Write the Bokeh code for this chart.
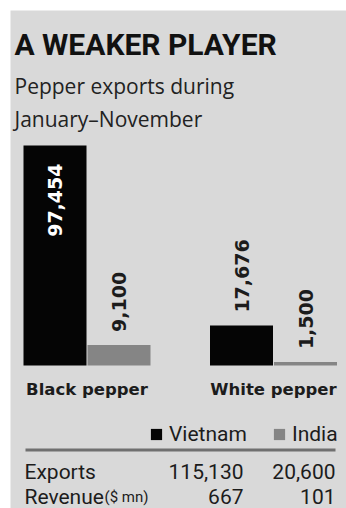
import math
from bokeh.plotting import figure
from bokeh.models import Range1d, Label, Legend, LegendItem, BoxAnnotation, ColumnDataSource
from bokeh.transform import dodge
from bokeh.core.properties import value
from bokeh.embed import file_html
from bokeh.resources import INLINE

# ---------------- data ----------------
categories = ["Black pepper", "White pepper"]
series_names = ["Vietnam", "India"]
vietnam = [97454, 17676]
india = [9100, 1500]
row_labels = ["Exports", "Revenue"]
row_units = ["", "($ mn)"]
vietnam_totals = [115130, 667]
india_totals = [20600, 101]

title_text = "A WEAKER PLAYER"
subtitle_lines = ["Pepper exports during", "January\u2013November"]

# ---------------- style / layout ----------------
W, H = 346, 508
PAD_L, PAD_T = 10, 10          # white strip left/top, like the reference
FW, FH = W - PAD_L, H - PAD_T  # frame size
BG = "#d9d9d9"
VIET_C = "#050505"
IND_C = "#858585"
TEXT_C = "#1c1c1c"
TITLE_FONT = "Roboto"
ROW_FONT = "Roboto"


def sx(page_x):
    return page_x - PAD_L


def sy(page_y):
    return H - page_y


BASE_Y = 365          # page px of bar baseline
TALLEST_PX = 220      # px height of tallest bar
GROUP_PX = 186.5      # px between category centres
FIRST_CENTER_PX = 86.5
BAR_PX = 63
DODGE_PX = 32

x_start = -sx(FIRST_CENTER_PX) / GROUP_PX
x_end = x_start + FW / GROUP_PX
BAR_W = BAR_PX / GROUP_PX
DODGE = DODGE_PX / GROUP_PX

ppu = TALLEST_PX / max(vietnam + india)
y_start = -(H - BASE_Y) / ppu
y_end = y_start + FH / ppu

p = figure(width=W, height=H, x_range=Range1d(x_start, x_end), y_range=Range1d(y_start, y_end),
           output_backend="svg", toolbar_location=None,
           min_border_left=PAD_L, min_border_top=PAD_T, min_border_right=0, min_border_bottom=0,
           x_axis_location=None, y_axis_location=None,
           background_fill_color=BG, border_fill_color="white", outline_line_color=None)
p.grid.visible = False

x_idx = list(range(len(categories)))
src = ColumnDataSource(dict(x=x_idx, cat=categories, vietnam=vietnam, india=india))

rv = p.vbar(x=dodge("x", -DODGE, range=p.x_range), top="vietnam", bottom=0, width=BAR_W,
            source=src, fill_color=VIET_C, line_color=None)
ri = p.vbar(x=dodge("x", DODGE, range=p.x_range), top="india", bottom=0, width=BAR_W,
            source=src, fill_color=IND_C, line_color=None)

# value labels (rotated)
big = max(vietnam + india)
ins = dict(x=[], y=[], t=[])
outs = dict(x=[], y=[], t=[])
for i in x_idx:
    for off, vals in ((-DODGE, vietnam), (DODGE, india)):
        v = vals[i]
        d = ins if v > 0.5 * big else outs
        d["x"].append(i + off)
        d["y"].append(v)
        d["t"].append(f"{v:,}")

p.text(x="x", y="y", text="t", source=ColumnDataSource(ins), angle=math.pi / 2,
       text_align="right", text_baseline="middle", y_offset=18,
       text_font=value("DejaVu Sans"), text_font_style="bold", text_font_size="19px",
       text_color="white")
p.text(x="x", y="y", text="t", source=ColumnDataSource(outs), angle=math.pi / 2,
       text_align="left", text_baseline="middle", y_offset=-13,
       text_font=value("DejaVu Sans"), text_font_style="bold", text_font_size="19px",
       text_color=TEXT_C)

# category labels
p.text(x="x", y=0, text="cat", source=src, text_align="center", text_baseline="alphabetic",
       y_offset=24, text_font=value("DejaVu Sans"), text_font_style="bold",
       text_font_size="16.5px", text_color=TEXT_C)

# title & subtitle
p.add_layout(Label(x=sx(14), y=sy(44), x_units="screen", y_units="screen", text=title_text,
                   text_font=TITLE_FONT, text_font_style="bold", text_font_size="30px",
                   text_color="#111111", text_baseline="alphabetic"))
for line, yb in zip(subtitle_lines, [85, 118]):
    p.add_layout(Label(x=sx(14), y=sy(yb), x_units="screen", y_units="screen", text=line,
                       text_font="Open Sans", text_font_size="21px",
                       text_color="#222222", text_baseline="alphabetic"))

# legend
legend = Legend(items=[LegendItem(label=series_names[0], renderers=[rv]),
                       LegendItem(label=series_names[1], renderers=[ri])],
                location=(sx(149), sy(445.5)), orientation="horizontal",
                glyph_width=14, glyph_height=14, label_standoff=6, spacing=25,
                padding=0, margin=0, border_line_color=None, background_fill_alpha=0,
                label_text_font=ROW_FONT, label_text_font_size="21px", label_text_color=TEXT_C)
p.add_layout(legend)

# separator rule
p.add_layout(BoxAnnotation(left=sx(25), right=sx(335), top=sy(448), bottom=sy(451),
                           left_units="screen", right_units="screen",
                           top_units="screen", bottom_units="screen",
                           fill_color="#707070", fill_alpha=1, line_color=None))

# summary table
for lbl, unit, v, ind, yb in zip(row_labels, row_units, vietnam_totals, india_totals, [471, 496]):
    p.add_layout(Label(x=sx(24), y=sy(yb), x_units="screen", y_units="screen", text=lbl,
                       text_font=ROW_FONT, text_font_size="21px", text_color=TEXT_C,
                       text_baseline="alphabetic"))
    if unit:
        p.add_layout(Label(x=sx(104), y=sy(yb), x_units="screen", y_units="screen", text=unit,
                           text_font=ROW_FONT, text_font_size="15px", text_color=TEXT_C,
                           text_baseline="alphabetic"))
    p.add_layout(Label(x=sx(243), y=sy(yb), x_units="screen", y_units="screen", text=f"{v:,}",
                       text_font=ROW_FONT, text_font_size="21px", text_color=TEXT_C,
                       text_align="right", text_baseline="alphabetic"))
    p.add_layout(Label(x=sx(335), y=sy(yb), x_units="screen", y_units="screen", text=f"{ind:,}",
                       text_font=ROW_FONT, text_font_size="21px", text_color=TEXT_C,
                       text_align="right", text_baseline="alphabetic"))

open("out.html", "w").write(file_html(p, INLINE))
